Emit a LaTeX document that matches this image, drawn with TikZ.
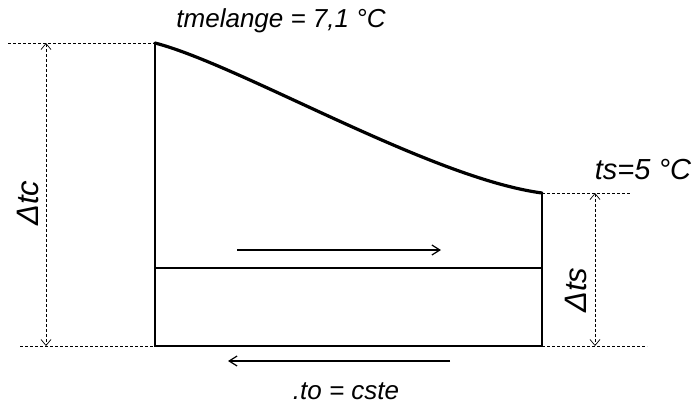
\documentclass[tikz,border=0pt]{standalone}
\usepackage{fontspec}
\setmainfont{Liberation Sans}
\usetikzlibrary{arrows.meta}
\begin{document}
\begin{tikzpicture}[x=1pt,y=-1pt,
  mainline/.style={line width=1.3pt},
  thinline/.style={line width=0.7pt, densely dashed},
  dimarrow/.style={line width=0.7pt, densely dashed, {Straight Barb[length=6pt,width=10pt]}-{Straight Barb[length=6pt,width=10pt]}},
  flowarrow/.style={line width=1.2pt, -{Straight Barb[length=8pt,width=10pt]}},
  lbl/.style={font=\itshape\fontsize{26}{26}\selectfont, inner sep=0pt},
  dimlbl/.style={font=\itshape\fontsize{31}{31}\selectfont, inner sep=0pt, rotate=90}]
\useasboundingbox (0,0) rectangle (694,405);
% key points
\coordinate (TL) at (8,43);
\coordinate (A) at (155,43);
\coordinate (B) at (542,193);
\coordinate (BL) at (20,346);
\coordinate (A0) at (155,346);
\coordinate (B0) at (542,346);
\coordinate (BR) at (647,346);
\coordinate (M1) at (155,268);
\coordinate (M2) at (542,268);
\coordinate (TR) at (630,193);
\coordinate (LA1) at (46,43);
\coordinate (LA2) at (46,346);
\coordinate (RA1) at (595,193);
\coordinate (RA2) at (595,346);
\coordinate (F1s) at (237,250);
\coordinate (F1e) at (441,250);
\coordinate (F2s) at (450,361);
\coordinate (F2e) at (228,361);
% reference lines
\draw[thinline] (TL) -- (A);
\draw[thinline] (BL) -- (A0);
\draw[thinline] (B) -- (TR);
\draw[thinline] (B0) -- (BR);
% frame
\draw[mainline] (A) -- (A0) -- (B0) -- (B);
\draw[mainline] (M1) -- (M2);
% curve
\draw[line width=3.2pt, line cap=round] (A) .. controls (240,65) and (430,178) .. (B);
% dimension arrows
\draw[dimarrow] (LA1) -- (LA2);
\draw[dimarrow] (RA1) -- (RA2);
% flow arrows
\draw[flowarrow] (F1s) -- (F1e);
\draw[flowarrow] (F2s) -- (F2e);
% labels
\node[lbl] (t1) at (281,21) {tmelange = 7,1 °C};
\node[lbl, font=\itshape\fontsize{29}{29}\selectfont] (t2) at (643,170) {ts=5 °C};
\node[lbl] (t3) at (346,391) {.to = cste};
\node[dimlbl] (t4) at (28,203) {Δtc};
\node[dimlbl] (t5) at (576,290) {Δts};
\end{tikzpicture}
\end{document}
